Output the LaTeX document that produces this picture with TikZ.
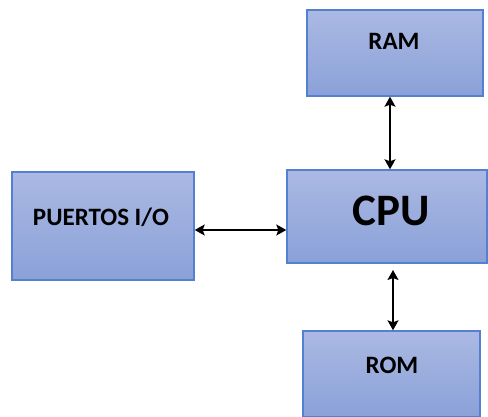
\documentclass[tikz,border=0pt]{standalone}
\usepackage{fontspec}
\setmainfont{Carlito}
\usetikzlibrary{arrows.meta}
\definecolor{boxtop}{HTML}{ABB9E3}
\definecolor{boxbot}{HTML}{8AA1D8}
\definecolor{boxedge}{HTML}{5580D2}
\tikzset{
  blockbox/.style={draw=boxedge, line width=1.4pt, top color=boxtop, bottom color=boxbot, inner sep=0pt},
  lbl/.style={font=\bfseries\fontsize{25}{27}\selectfont, inner sep=0pt},
  biglbl/.style={font=\bfseries\fontsize{45}{48}\selectfont, inner sep=0pt},
  link/.style={line width=1.6pt, {Stealth[length=10pt,width=11pt,inset=2pt]}-{Stealth[length=10pt,width=11pt,inset=2pt]}}
}
\begin{document}
\begin{tikzpicture}[x=1pt,y=-1pt]
\useasboundingbox (0,0) rectangle (488,417);
\node[blockbox, minimum width=176pt, minimum height=86pt] (ram) at (395,53) {};
\node[blockbox, minimum width=200pt, minimum height=93pt] (cpu) at (387,216.5) {};
\node[blockbox, minimum width=182pt, minimum height=108pt] (io) at (103,226) {};
\node[blockbox, minimum width=177pt, minimum height=86pt] (rom) at (391.5,374) {};
\node[lbl] (ramt) at (394,41) {RAM};
\node[biglbl] (cput) at (391,211) {CPU};
\node[lbl] (iot) at (101,217) {PUERTOS I/O};
\node[lbl] (romt) at (392,365) {ROM};
\coordinate (romtop) at (393,270);
\draw[link] (ram.south -| 390,0) -- (cpu.north -| 390,0);
\draw[link] (romtop) -- (rom.north -| romtop);
\draw[link] (io.east |- 0,230) -- (cpu.west |- 0,230);
\end{tikzpicture}
\end{document}
